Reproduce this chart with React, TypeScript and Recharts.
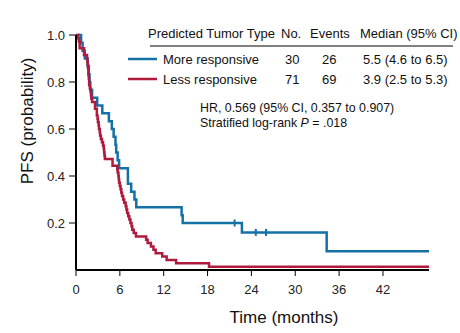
import { ComposedChart, Line, Scatter, XAxis, YAxis } from "recharts";

// follow-up times (months)
const N_MORE = 30;
const N_LESS = 71;
const END_MONTHS = 48.3;

const moreEvents = [
  0.7, 0.9, 1.2, 1.6, 1.75, 1.85, 1.95, 2.2, 2.9, 3.6, 4.5, 4.9, 5.15, 5.4, 5.5,
  5.7, 5.9, 7.1, 7.1, 7.55, 8.0, 8.25, 14.45, 14.6, 22.7, 34.3,
];
const moreCensored = [21.7, 24.6, 26.0, END_MONTHS];
const moreCensorMarks = [21.7, 24.6, 26.0];

const lessEvents = [
  0.3, 0.4, 0.5, 0.5, 1.1, 1.1, 1.5, 1.55, 1.6, 1.65, 1.7, 1.7, 1.75, 1.8, 1.8,
  1.9, 2.0, 2.05, 2.1, 2.2, 2.6, 2.6, 2.85, 2.85, 2.95, 3.0, 3.1, 3.15, 3.25, 3.3,
  3.4, 3.55, 3.7, 3.8, 3.85, 3.9, 3.95, 5.0, 5.0, 5.65, 5.7, 5.8, 5.85, 5.9, 6.0,
  6.1, 6.2, 6.3, 6.45, 6.6, 6.8, 6.9, 7.0, 7.15, 7.3, 7.45, 7.6, 7.7, 7.9, 8.2,
  9.6, 9.8, 10.25, 10.6, 10.9, 11.8, 12.4, 13.7, 18.2,
];
const lessCensored = [1.0, END_MONTHS];

const xTicks = [0, 6, 12, 18, 24, 30, 36, 42];
const yTicks = [0.2, 0.4, 0.6, 0.8, 1.0];

const tableHeader = ["Predicted Tumor Type", "No.", "Events", "Median (95% CI)"];
const tableRows = [
  { name: "More responsive", no: "30", events: "26", median: "5.5 (4.6 to 6.5)" },
  { name: "Less responsive", no: "71", events: "69", median: "3.9 (2.5 to 5.3)" },
];

const BLUE = "#1570a6";
const RED = "#b01a3c";
const FONT = "'Liberation Sans', Arial, sans-serif";

type Pt = { t: number; s: number };

// Kaplan-Meier product-limit steps
function kmSteps(n: number, events: number[], censored: number[]): Pt[] {
  const times = Array.from(new Set([...events, ...censored])).sort((a, b) => a - b);
  let atRisk = n;
  let s = 1;
  const pts: Pt[] = [{ t: 0, s: 1 }];
  for (const t of times) {
    const d = events.filter((e) => e === t).length;
    const c = censored.filter((e) => e === t).length;
    if (d > 0) {
      s *= (atRisk - d) / atRisk;
      pts.push({ t, s });
    }
    atRisk -= d + c;
  }
  pts.push({ t: END_MONTHS, s });
  return pts;
}

function survivalAt(steps: Pt[], t: number) {
  let s = 1;
  for (const p of steps) if (p.t <= t) s = p.s;
  return s;
}

const moreSteps = kmSteps(N_MORE, moreEvents, moreCensored);
const lessSteps = kmSteps(N_LESS, lessEvents, lessCensored);
const moreMarks = moreCensorMarks.map((t) => ({ t, s: survivalAt(moreSteps, t) }));

const CensorTick = (props: any) => {
  const { cx, cy } = props;
  return <line x1={cx} x2={cx} y1={cy - 3.5} y2={cy + 3.5} stroke={BLUE} strokeWidth={2} />;
};

export default function App() {
  const colX = [148, 281, 310, 360];
  const rowX = [163, 285, 322, 363];
  const rowY = [59, 79];
  return (
    <div style={{ position: "fixed", left: 0, top: 0, width: 460, height: 333, background: "#fff" }}>
      <ComposedChart
        width={460}
        height={333}
        margin={{ top: 35, right: 31, left: 0, bottom: 0 }}
        style={{ fontFamily: FONT }}
      >
        <XAxis
          dataKey="t"
          type="number"
          domain={[0, END_MONTHS]}
          ticks={xTicks}
          allowDataOverflow
          height={63}
          tick={{ fontSize: 13, fill: "#222" }}
          tickSize={6}
          tickMargin={9}
          stroke="#000"
          axisLine={{ stroke: "#000", strokeWidth: 2 }}
          tickLine={{ stroke: "#000", strokeWidth: 1 }}
        />
        <YAxis
          dataKey="s"
          type="number"
          domain={[0, 1]}
          ticks={yTicks}
          width={76}
          tickFormatter={(v) => v.toFixed(1)}
          tick={{ fontSize: 13, fill: "#222" }}
          tickSize={7}
          tickMargin={4}
          axisLine={{ stroke: "#000", strokeWidth: 2 }}
          tickLine={{ stroke: "#000", strokeWidth: 1 }}
        />
        <Line
          data={moreSteps}
          dataKey="s"
          type="stepAfter"
          stroke={BLUE}
          strokeWidth={2.5}
          dot={false}
          isAnimationActive={false}
        />
        <Line
          data={lessSteps}
          dataKey="s"
          type="stepAfter"
          stroke={RED}
          strokeWidth={2.5}
          dot={false}
          isAnimationActive={false}
        />
        <Scatter data={moreMarks} dataKey="s" shape={CensorTick} isAnimationActive={false} />
      </ComposedChart>
      <svg
        width={460}
        height={333}
        style={{ position: "absolute", left: 0, top: 0, pointerEvents: "none", fontFamily: FONT }}
      >
        <text
          x={27.5}
          y={121}
          transform="rotate(-90 27.5 121)"
          textAnchor="middle"
          dominantBaseline="central"
          fontSize={17}
          fill="#111"
        >
          PFS (probability)
        </text>
        <text x={284} y={317} textAnchor="middle" dominantBaseline="central" fontSize={17} fill="#111">
          Time (months)
        </text>
        {tableHeader.map((h, i) => (
          <text key={h} x={colX[i]} y={33} dominantBaseline="central" fontSize={13} fill="#111">
            {h}
          </text>
        ))}
        <line x1={150} x2={453} y1={46} y2={46} stroke="#000" strokeWidth={1} />
        {tableRows.map((r, i) => (
          <g key={r.name} fontSize={13} fill="#111">
            <line x1={128} x2={157} y1={rowY[i]} y2={rowY[i]} stroke={i === 0 ? BLUE : RED} strokeWidth={2.5} />
            <text x={rowX[0]} y={rowY[i]} dominantBaseline="central">{r.name}</text>
            <text x={rowX[1]} y={rowY[i]} dominantBaseline="central">{r.no}</text>
            <text x={rowX[2]} y={rowY[i]} dominantBaseline="central">{r.events}</text>
            <text x={rowX[3]} y={rowY[i]} dominantBaseline="central">{r.median}</text>
          </g>
        ))}
        <text x={200} y={108} dominantBaseline="central" fontSize={12.4} fill="#111">
          HR, 0.569 (95% CI, 0.357 to 0.907)
        </text>
        <text x={200} y={122.5} dominantBaseline="central" fontSize={12.4} fill="#111">
          Stratified log-rank <tspan fontStyle="italic">P</tspan> = .018
        </text>
      </svg>
    </div>
  );
}
